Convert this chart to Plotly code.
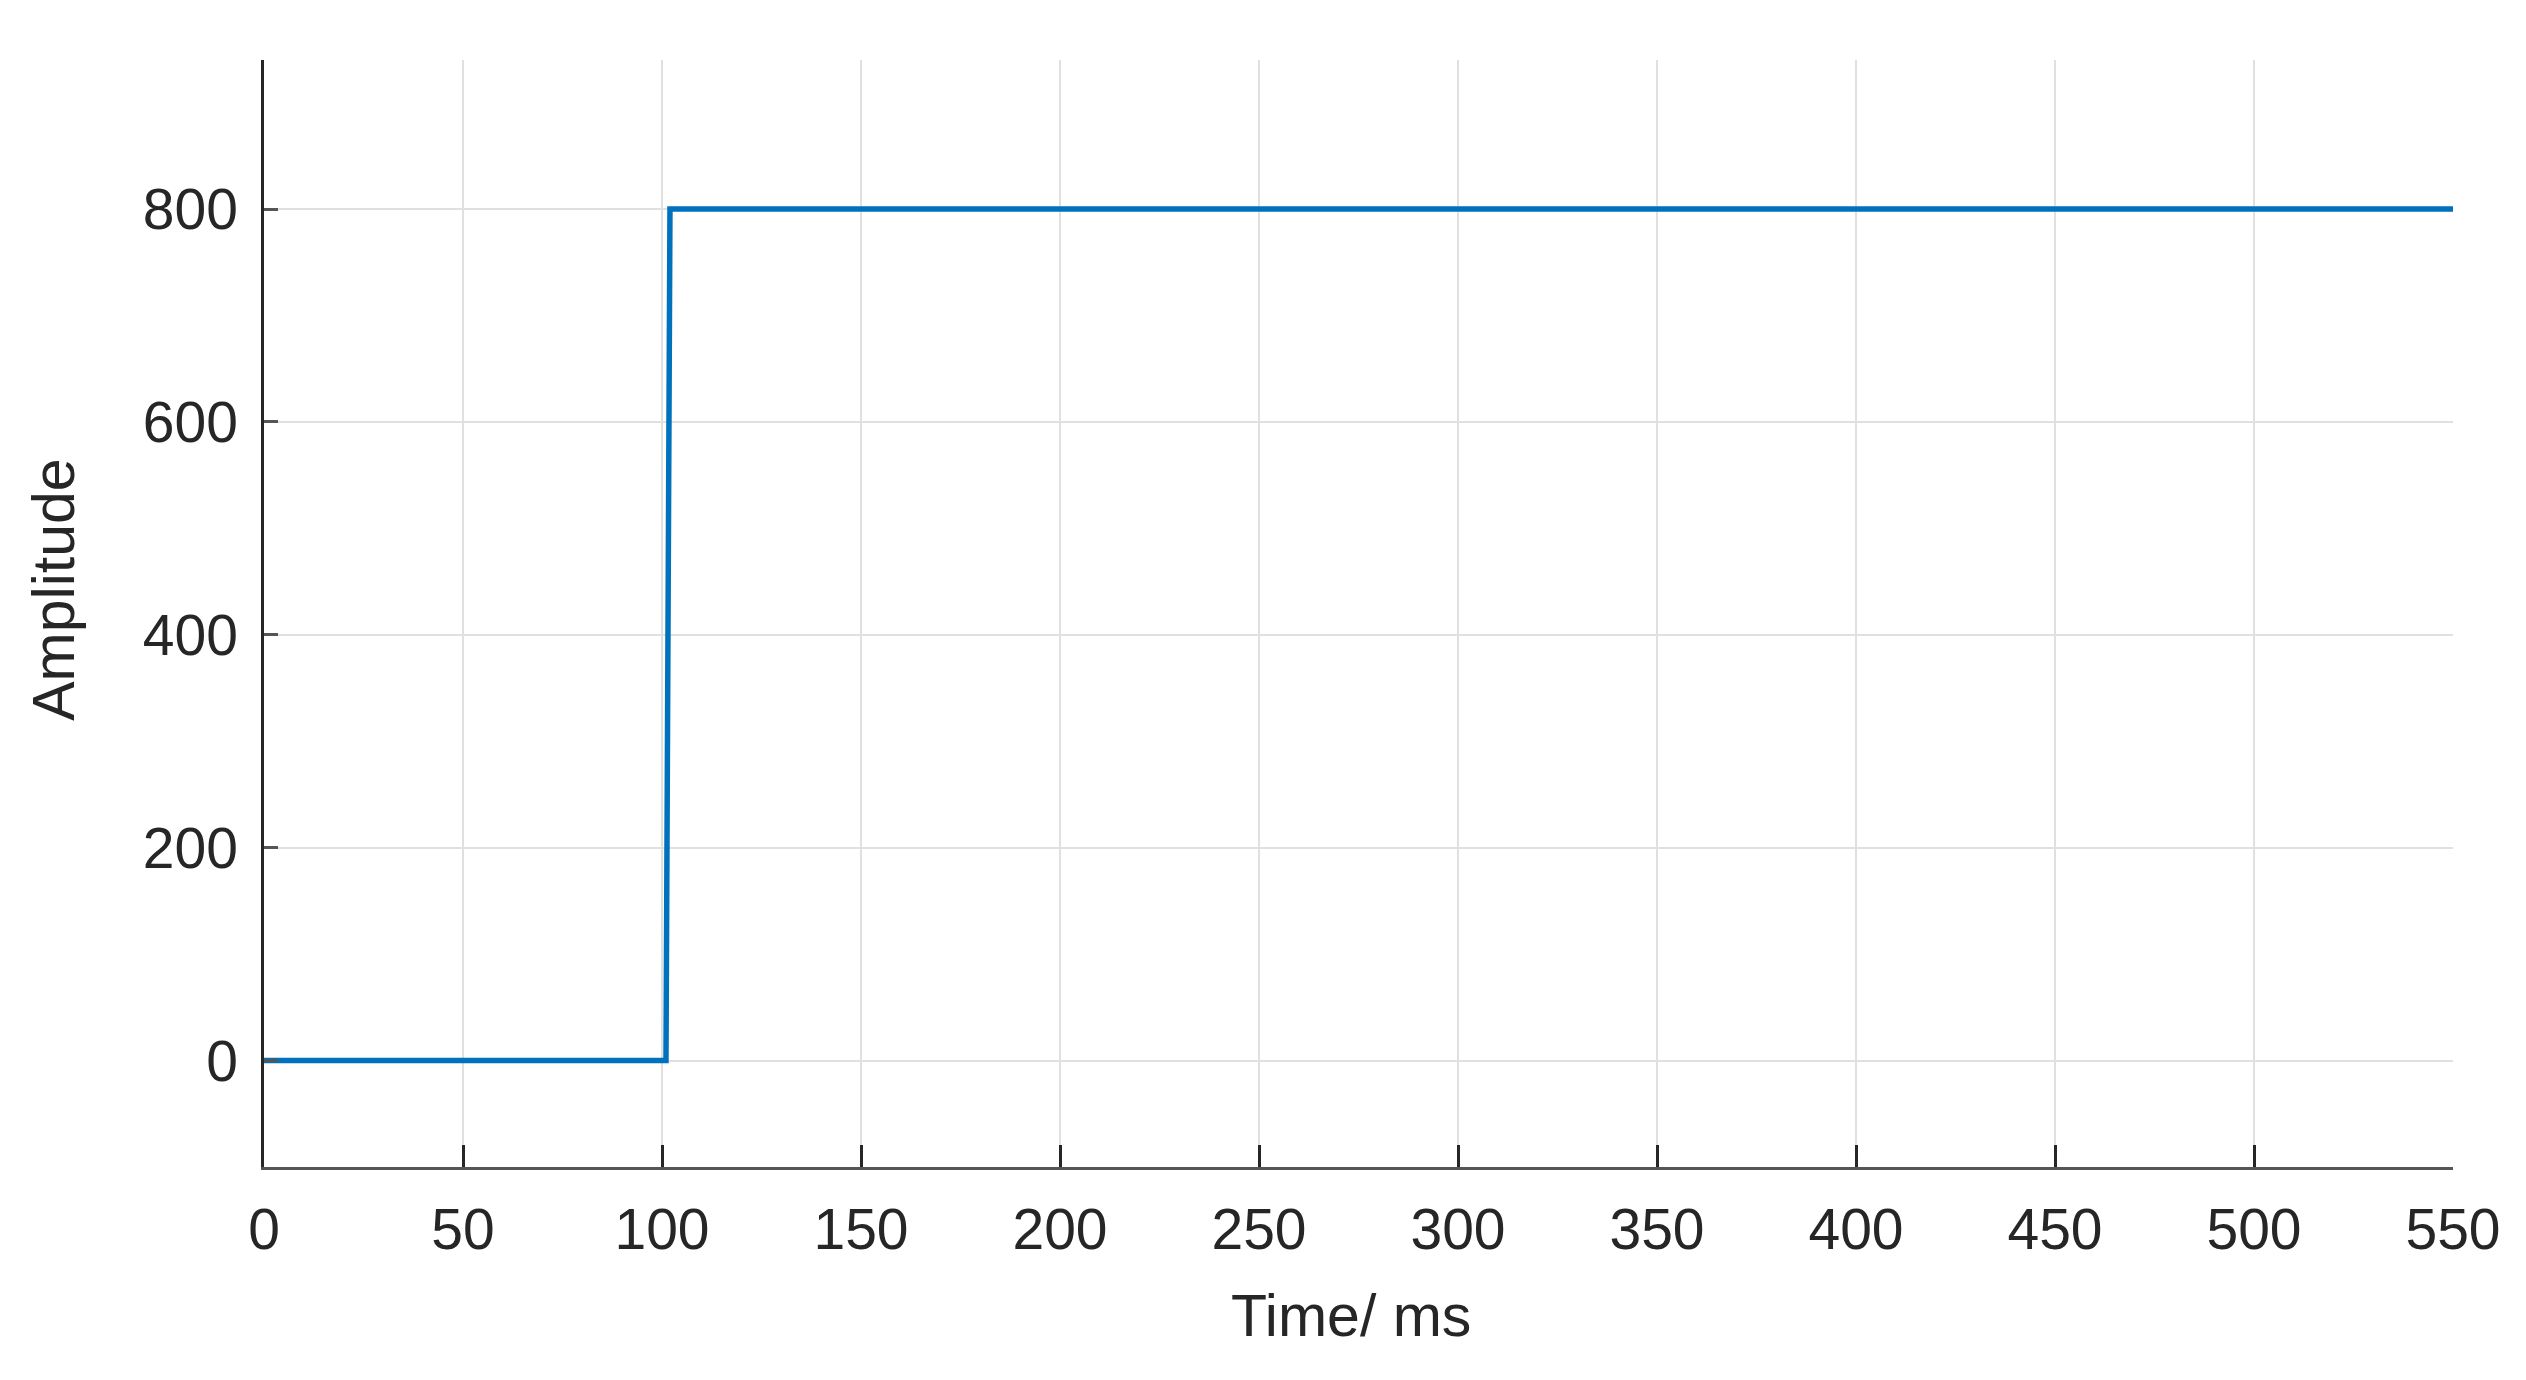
import plotly.graph_objects as go

# step response samples (ms, amplitude)
time_ms = [0, 101, 102, 550]
amplitude = [0, 0, 800, 800]

x_ticks = [0, 50, 100, 150, 200, 250, 300, 350, 400, 450, 500, 550]
y_ticks = [0, 200, 400, 600, 800]

AXIS_COLOR = '#262626'
GRID_COLOR = '#e0e0e0'
FONT = 'Liberation Sans, Arial, sans-serif'

fig = go.Figure(go.Scatter(
    x=time_ms, y=amplitude, mode='lines',
    line=dict(color='#0072BD', width=5.5),
    showlegend=False,
))

fig.update_layout(
    width=2526, height=1380,
    margin=dict(l=256, r=81, t=52, b=221),
    paper_bgcolor='white', plot_bgcolor='white',
    font=dict(family=FONT, size=57, color=AXIS_COLOR),
)

fig.update_xaxes(
    range=[0, 550], tickvals=x_ticks,
    showline=True, linecolor='#555555', linewidth=2.5,
    ticks='inside', ticklen=22, tickwidth=2.5, tickcolor=AXIS_COLOR,
    showgrid=True, gridcolor=GRID_COLOR, gridwidth=2,
    zeroline=False, ticklabelstandoff=11,
)
fig.update_yaxes(
    range=[-100, 940], tickvals=y_ticks,
    showline=True, linecolor=AXIS_COLOR, linewidth=2.5,
    ticks='inside', ticklen=14, tickwidth=2.5, tickcolor='#555555',
    showgrid=True, gridcolor=GRID_COLOR, gridwidth=2,
    zeroline=False, ticklabelstandoff=12,
)

# axis titles placed as in the original (y label sits a bit above centre)
fig.add_annotation(text='Time/ ms', xref='paper', yref='paper',
                   x=0.4967, y=-0.135, xanchor='center', yanchor='middle',
                   showarrow=False, font=dict(size=59))
fig.add_annotation(text='Amplitude', xref='paper', yref='paper',
                   x=-0.0957, y=0.521, xanchor='center', yanchor='middle',
                   textangle=-90, showarrow=False, font=dict(size=59))

fig.write_html("out.html")
